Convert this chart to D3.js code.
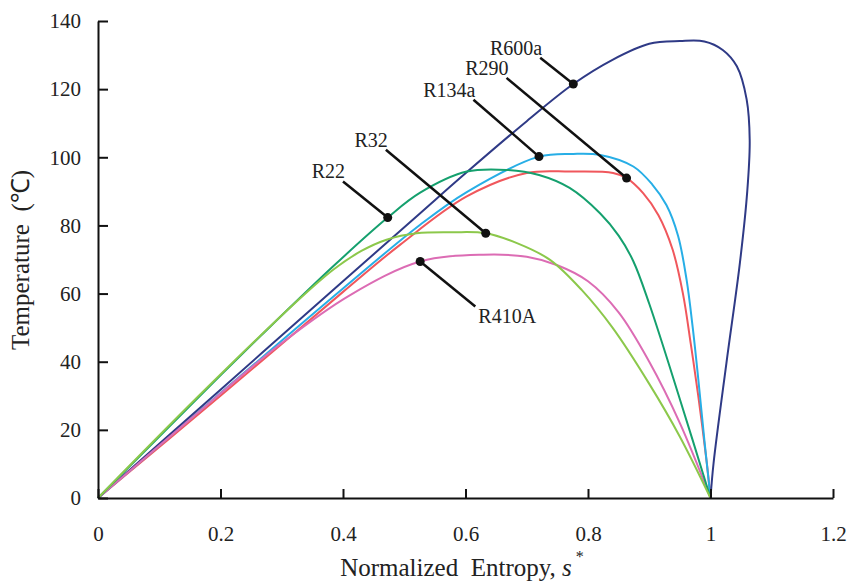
<!DOCTYPE html>
<html>
<head>
<meta charset="utf-8">
<script src="https://cdn.jsdelivr.net/npm/d3@7"></script>
<style>
  body { margin: 0; background: #fff; }
  svg { display: block; font-family: "Liberation Serif", "Times New Roman", serif; }
</style>
</head>
<body>
<div id="chart"></div>
<script>
// axis ticks
const xTicks = [0, 0.2, 0.4, 0.6, 0.8, 1, 1.2];
const yTicks = [0, 20, 40, 60, 80, 100, 120, 140];

// normalized entropy s* / temperature (°C)
const r600aS = [0, 0.2, 0.4, 0.526, 0.6, 0.7, 0.776, 0.84, 0.9, 0.95, 0.99, 1.02, 1.043, 1.059, 1.064, 1.06, 1.048, 1.026, 1.005, 1];
const r600aT = [0, 31.8, 63.6, 83.6, 95.3, 110.6, 121.5, 128.6, 133.3, 134.1, 134, 131.5, 126.7, 117, 105, 90, 69, 39.6, 10.2, 0];

const r290S = [0, 0.2, 0.4, 0.493, 0.602, 0.7, 0.77, 0.841, 0.863, 0.89, 0.915, 0.938, 0.955, 0.968, 0.98, 0.994, 1];
const r290T = [0, 30, 60.5, 74.3, 88.5, 95.4, 95.8, 95.4, 93.9, 89.5, 83, 73, 60, 45, 30, 10.2, 0];

const r134aS = [0, 0.2, 0.4, 0.526, 0.602, 0.72, 0.776, 0.82, 0.874, 0.905, 0.928, 0.947, 0.961, 0.971, 0.98, 0.99, 1];
const r134aT = [0, 30.8, 61.5, 80.2, 89.8, 100.2, 101, 100.7, 97.3, 92, 86, 77, 64, 50, 35, 17, 0];

const r22S = [0, 0.2, 0.264, 0.384, 0.473, 0.526, 0.602, 0.667, 0.72, 0.77, 0.82, 0.85, 0.874, 0.9, 0.95, 1];
const r22T = [0, 36, 47.3, 68, 82.3, 89.6, 95.8, 96.3, 94.8, 91, 83.5, 77, 69.5, 57, 29, 0];

const r32S = [0, 0.163, 0.327, 0.384, 0.43, 0.471, 0.52, 0.58, 0.633, 0.684, 0.738, 0.79, 0.84, 0.9, 0.95, 1];
const r32T = [0, 29.7, 58.1, 67, 72.5, 75.8, 77.7, 78, 77.7, 74.8, 69.9, 61, 50, 33.5, 18, 0];

const r410aS = [0, 0.15, 0.3, 0.411, 0.526, 0.629, 0.7, 0.75, 0.8, 0.85, 0.9, 0.95, 1];
const r410aT = [0, 23, 45.5, 59.5, 69.4, 71.4, 70.8, 68.3, 63.6, 54.5, 40, 22, 0];

// callouts: point on curve and end of the leader line, both in data units
const labelNames = ["R600a", "R290", "R134a", "R32", "R22", "R410A"];
const dotS = [0.776, 0.863, 0.72, 0.633, 0.473, 0.526];
const dotT = [121.5, 93.9, 100.2, 77.7, 82.3, 69.4];
const leaderS = [0.722, 0.667, 0.613, 0.47, 0.4, 0.616];
const leaderT = [129.2, 123.3, 116.9, 102.2, 92.9, 56.2];

function drawChart() {
    const width = 847;
    const height = 584;
    const margin = { left: 98, right: 14, top: 21, bottom: 86 };

    const svg = d3.select("#chart").append("svg").attr("width", width).attr("height", height);

    const x = d3.scaleLinear().domain([0, 1.2]).range([margin.left, width - margin.right]);
    const y = d3.scaleLinear().domain([0, 140]).range([height - margin.bottom, margin.top]);

    const series = [
        { name: "R290", s: r290S, t: r290T, color: "#f0575c" },
        { name: "R134a", s: r134aS, t: r134aT, color: "#27aee6" },
        { name: "R600a", s: r600aS, t: r600aT, color: "#2f3a86" },
        { name: "R410A", s: r410aS, t: r410aT, color: "#dc6cb4" },
        { name: "R22", s: r22S, t: r22T, color: "#15a06e" },
        { name: "R32", s: r32S, t: r32T, color: "#8cc84b" }
    ];

    const line = d3.line().x(d => x(d[0])).y(d => y(d[1])).curve(d3.curveCatmullRom.alpha(0.5));

    svg.append("g").selectAll("path").data(series).join("path")
        .attr("fill", "none")
        .attr("stroke", d => d.color)
        .attr("stroke-width", 2)
        .attr("d", d => line(d.s.map((s, i) => [s, d.t[i]])));

    // axes, ticks pointing inward
    const xAxis = svg.append("g").attr("transform", `translate(0,${y(0)})`)
        .call(d3.axisBottom(x).tickValues(xTicks).tickFormat(d3.format("")).tickSizeInner(-9).tickSizeOuter(0).tickPadding(28));
    const yAxis = svg.append("g").attr("transform", `translate(${x(0)},0)`)
        .call(d3.axisLeft(y).tickValues(yTicks).tickFormat(d3.format("")).tickSizeInner(-10).tickSizeOuter(0).tickPadding(17));

    [xAxis, yAxis].forEach(a => {
        a.select(".domain").attr("stroke", "#111").attr("stroke-width", 2);
        a.selectAll(".tick line").attr("stroke", "#111").attr("stroke-width", 2);
        a.selectAll(".tick text").attr("fill", "#222").style("font-size", "21px").style("font-family", "'Liberation Serif', serif");
    });

    // callouts
    const callouts = labelNames.map((name, i) => ({ name, s: dotS[i], t: dotT[i], ls: leaderS[i], lt: leaderT[i] }));
    const cg = svg.append("g");
    cg.selectAll("line").data(callouts).join("line")
        .attr("x1", d => x(d.s)).attr("y1", d => y(d.t))
        .attr("x2", d => x(d.ls)).attr("y2", d => y(d.lt))
        .attr("stroke", "#111").attr("stroke-width", 2.5);
    cg.selectAll("circle").data(callouts).join("circle")
        .attr("cx", d => x(d.s)).attr("cy", d => y(d.t)).attr("r", 4.5).attr("fill", "#111");
    cg.selectAll("text").data(callouts).join("text")
        .attr("x", d => x(d.ls) + (d.name === "R410A" ? 3 : 2))
        .attr("y", d => d.name === "R410A" ? y(d.lt) + 16 : y(d.lt) - 3)
        .attr("text-anchor", d => d.name === "R410A" ? "start" : "end")
        .attr("fill", "#222").style("font-size", "20px")
        .text(d => d.name);

    // axis titles
    svg.append("text")
        .attr("transform", `translate(29,260) rotate(-90)`)
        .attr("text-anchor", "middle").attr("fill", "#222").style("font-size", "25px").style("white-space", "pre")
        .text("Temperature  (℃)");

    const xt = svg.append("text").attr("x", 462).attr("y", 576).attr("text-anchor", "middle")
        .attr("fill", "#222").style("font-size", "25px").style("white-space", "pre");
    xt.append("tspan").text("Normalized  Entropy, ");
    xt.append("tspan").style("font-style", "italic").text("s");
    xt.append("tspan").attr("dx", 4).attr("dy", -14).style("font-size", "16px").text("*");
}

drawChart();
</script>
</body>
</html>
